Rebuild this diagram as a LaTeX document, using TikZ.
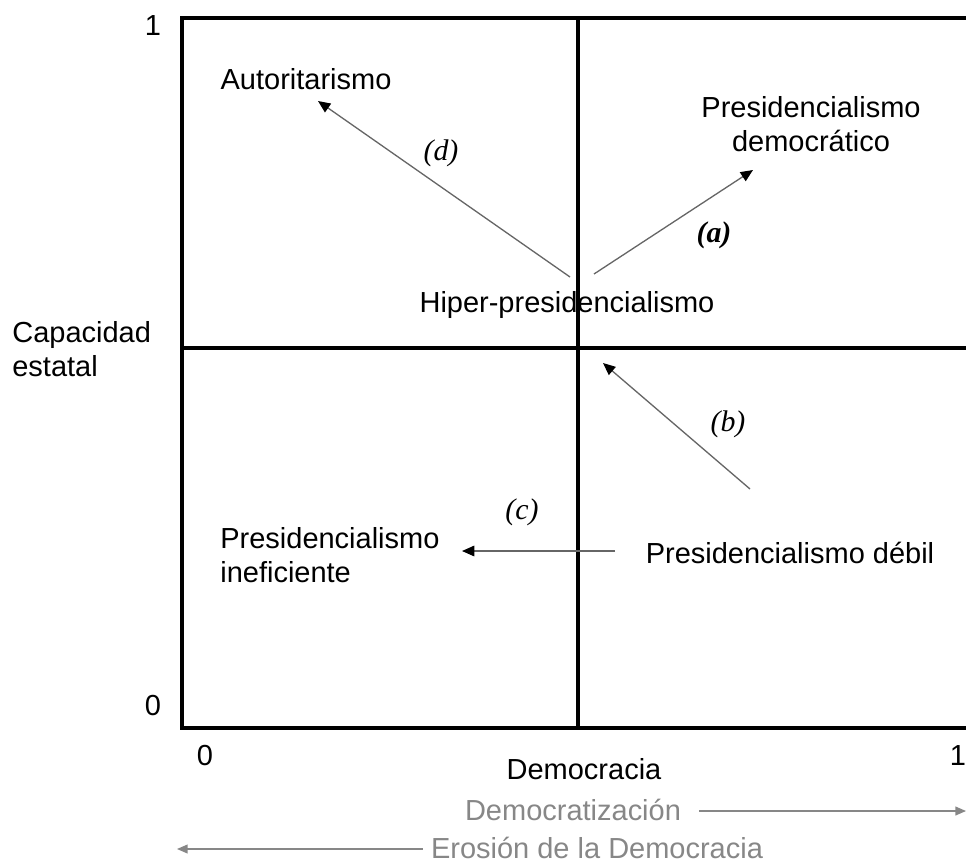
\documentclass[tikz,border=0pt]{standalone}
\usepackage{fontspec}
\setmainfont{Liberation Sans}
\newfontfamily\labelfont{Liberation Serif}
\usetikzlibrary{arrows.meta}
\usetikzlibrary{positioning}

\begin{document}
\begin{tikzpicture}[x=0.02cm, y=-0.02cm,
	axis line/.style={line width=2pt},
	main node/.style={font=\fontsize{16.5}{19}\selectfont, align=center, inner sep=0pt},
	side node/.style={main node, align=left},
	gray node/.style={main node, text=black!47},
	path label/.style={font=\labelfont\itshape\fontsize{17}{20}\selectfont, inner sep=0pt},
	path arrow/.style={draw=black!60, line width=0.75pt, -{Triangle[color=black, length=7pt, width=6pt]}},
	gray arrow/.style={draw=black!47, line width=0.75pt, -{Triangle[length=6pt, width=5pt]}},
]
\useasboundingbox (0,0) rectangle (966,865);
% frame
\coordinate (tl) at (182,18);
\coordinate (bl) at (182,728);
\coordinate (tr) at (975,18);
\coordinate (br) at (975,728);
\coordinate (midtop) at (578,18);
\coordinate (midbot) at (578,728);
\coordinate (midleft) at (182,348);
\coordinate (midright) at (975,348);
\draw [axis line] (tr) -- (tl) -- (bl) -- (br);
\draw [axis line] (midtop) -- (midbot);
\draw [axis line] (midleft) -- (midright);
% ticks
\node [main node] (ytop) at (153,26) {1};
\node [main node] (ybot) at (153,706) {0};
\node [main node] (xleft) at (205,756) {0};
\node [main node] (xright) at (958,756) {1};
\node [side node, anchor=west] (ylabel) at (12,349) {Capacidad\\estatal};
\node [main node] (xlabel) at (584,769) {Democracia};
% regimes
\node [main node] (Auto) at (306,79) {Autoritarismo};
\node [main node] (PDem) at (811,124) {Presidencialismo\\democrático};
\node [main node] (Hiper) at (567,305) {Hiper-presidencialismo};
\node [main node] (PDeb) at (790,553) {Presidencialismo débil};
\node [side node, anchor=west] (PIne) at (220,555) {Presidencialismo\\ineficiente};
% path ends
\coordinate (d start) at (570,277);
\coordinate (d end) at (318,101);
\coordinate (a start) at (594,274);
\coordinate (a end) at (753,170);
\coordinate (b start) at (750,489);
\coordinate (b end) at (603,363);
\coordinate (c start) at (615,551);
\coordinate (c end) at (462,551);
\draw [path arrow] (d start) -- (d end);
\draw [path arrow] (a start) -- (a end);
\draw [path arrow] (b start) -- (b end);
\draw [path arrow] (c start) -- (c end);
\node [path label] (dlab) at (441,153) {(d)};
\node [path label, font=\labelfont\bfseries\itshape\fontsize{17}{20}\selectfont] (alab) at (714,235) {(a)};
\node [path label] (blab) at (728,424) {(b)};
\node [path label] (clab) at (522,512) {(c)};
% direction of change
\node [gray node] (Demz) at (573,810) {Democratización};
\node [gray node] (Eros) at (597,848) {Erosión de la Democracia};
\coordinate (demz end) at (966,811);
\coordinate (eros end) at (177,849);
\draw [gray arrow] (Demz.east) ++(18,1) coordinate (demz start) -- (demz end);
\draw [gray arrow] (Eros.west) ++(-8,1) coordinate (eros start) -- (eros end);
\end{tikzpicture}
\end{document}
